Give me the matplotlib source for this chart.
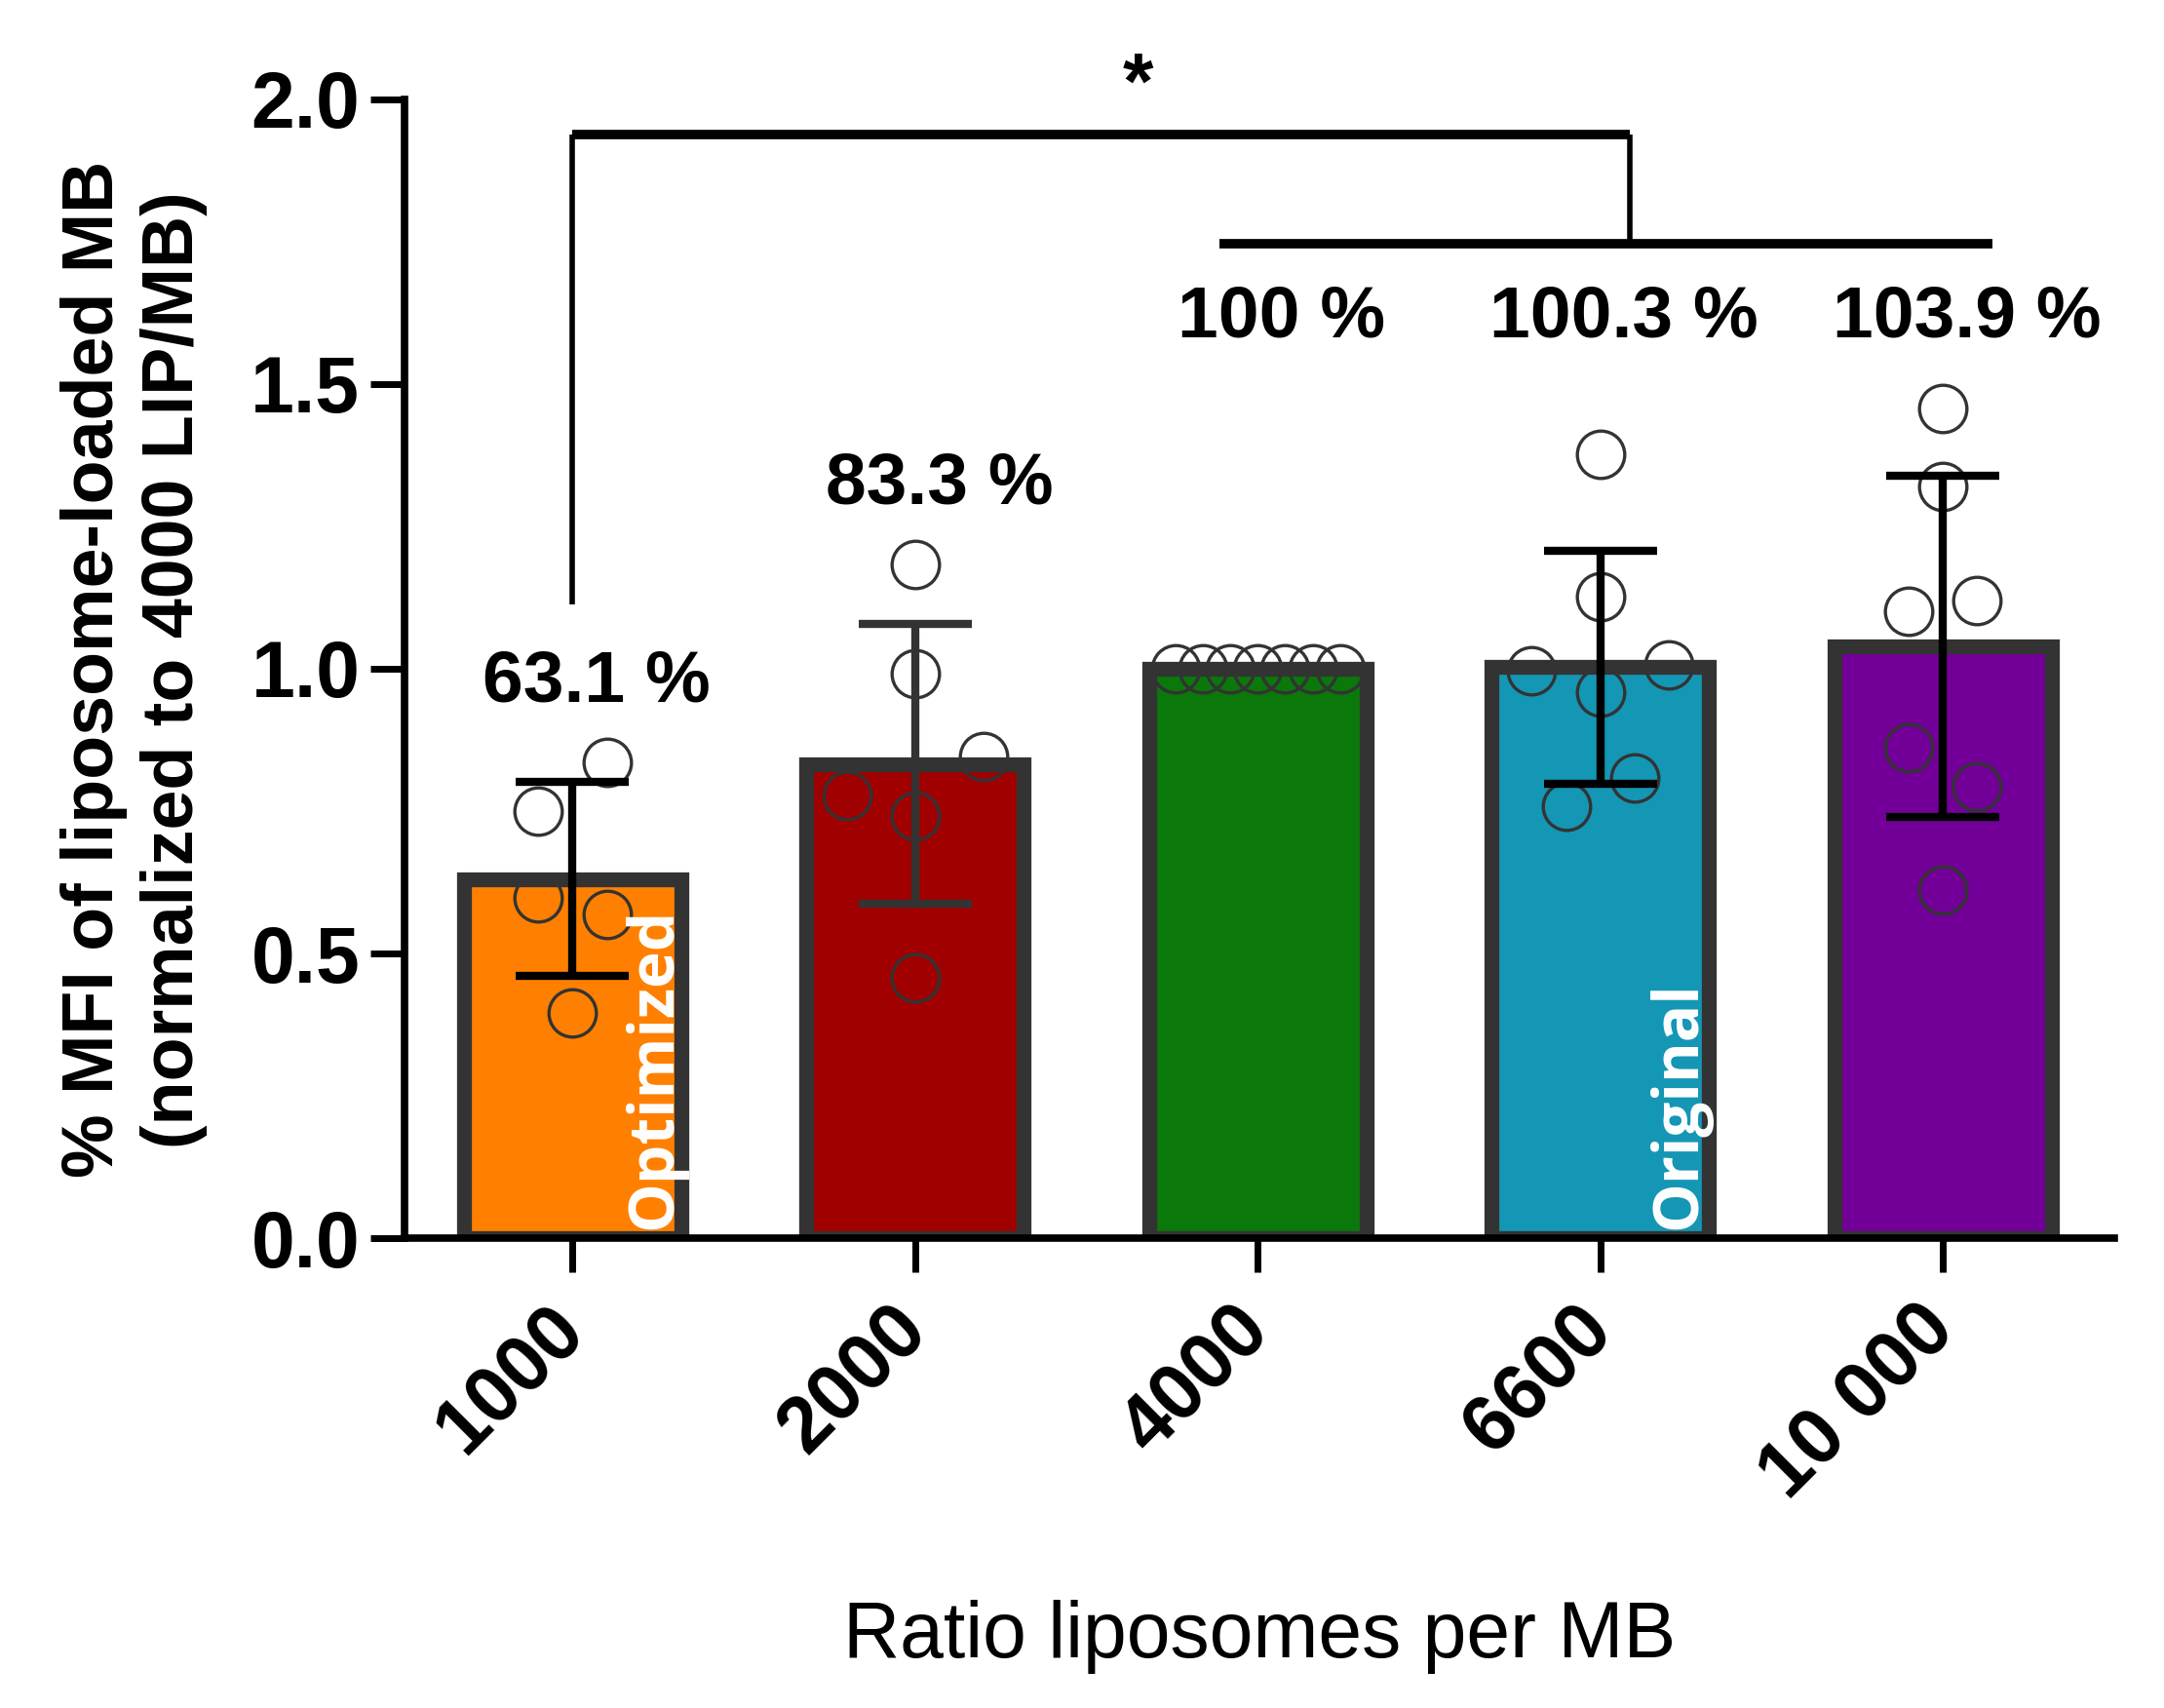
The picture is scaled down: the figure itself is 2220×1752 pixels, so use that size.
import matplotlib
matplotlib.use("Agg")
import matplotlib.pyplot as plt
import numpy as np

plt.rcParams["font.family"] = ["Liberation Sans", "DejaVu Sans"]

# data
ratios = ["1000", "2000", "4000", "6600", "10 000"]
means = [0.631, 0.833, 1.000, 1.003, 1.039]
sds = [0.171, 0.245, 0.0, 0.205, 0.300]
pct_labels = ["63.1 %", "83.3 %", "100 %", "100.3 %", "103.9 %"]

pts_1000 = [0.836, 0.750, 0.597, 0.568, 0.395]
pts_2000 = [1.184, 0.991, 0.846, 0.778, 0.741, 0.457]
pts_4000 = [1.0, 1.0, 1.0, 1.0, 1.0, 1.0, 1.0]
pts_6600 = [1.377, 1.126, 0.997, 1.007, 0.959, 0.808, 0.759]
pts_10000 = [1.458, 1.320, 1.101, 1.119, 0.862, 0.793, 0.611]
points = [pts_1000, pts_2000, pts_4000, pts_6600, pts_10000]

# horizontal scatter of the dots inside each group
jitter = [
    [0.1, -0.1, -0.1, 0.1, 0.0],
    [0.0, 0.0, 0.2, -0.2, 0.0, 0.0],
    [-0.24, -0.16, -0.08, 0.0, 0.08, 0.16, 0.24],
    [0.0, 0.0, -0.2, 0.2, 0.0, 0.1, -0.1],
    [0.0, 0.0, -0.1, 0.1, -0.1, 0.1, 0.0],
]

colors = ["#FF8000", "#A00000", "#0A780A", "#1496B5", "#720098"]
err_colors = ["black", "#333333", "black", "black", "black"]
edge = "#333333"

fig = plt.figure(figsize=(22.2, 17.52), dpi=100)
ax = fig.add_axes([0.187, 0.2751, 0.79, 0.6667])

x = np.arange(len(ratios))
ax.bar(x, means, width=0.635, color=colors, edgecolor=edge, linewidth=11, zorder=2)

for i, (vals, offs) in enumerate(zip(points, jitter)):
    ax.plot(x[i] + np.array(offs), vals, "o", mfc="none", mec=edge, ms=35, mew=2.4, zorder=3)

for i in range(len(x)):
    if sds[i] > 0:
        ax.errorbar(x[i], means[i], yerr=sds[i], fmt="none", ecolor=err_colors[i],
                    elinewidth=6, capsize=42, capthick=6, zorder=4)

# percentage labels
label_y = [max(points[0]) + 0.14, max(points[1]) + 0.14, 1.617, 1.617, 1.617]
for i, lab in enumerate(pct_labels):
    ax.text(x[i] + 0.07, label_y[i], lab, ha="center", va="center", fontsize=54,
            fontweight="bold", zorder=5)

# white labels inside bars
ax.text(x[0] + 0.24, 0.015, "Optimized", rotation=90, ha="center", va="bottom",
        color="white", fontsize=46, fontweight="bold", family=["Open Sans", "DejaVu Sans"], zorder=5)
ax.text(x[3] + 0.23, 0.015, "Original", rotation=90, ha="center", va="bottom",
        color="white", fontsize=46, fontweight="bold", family=["Open Sans", "DejaVu Sans"], zorder=5)

# significance bracket
top_y, low_y, drop_y = 1.938, 1.747, 1.113
mid_x = 3.085
ax.plot([x[0], x[0]], [drop_y, top_y], color="black", lw=4, clip_on=False, solid_capstyle="butt")
ax.plot([x[0], mid_x], [top_y, top_y], color="black", lw=7, clip_on=False, solid_capstyle="butt")
ax.plot([mid_x, mid_x], [low_y, top_y], color="black", lw=4, clip_on=False, solid_capstyle="butt")
ax.plot([x[2] - 0.113, x[4] + 0.145], [low_y, low_y], color="black", lw=7, clip_on=False,
        solid_capstyle="butt")
ax.text(1.65, 1.985, "*", ha="center", va="baseline", fontsize=58, fontweight="bold", clip_on=False)

ax.set_xlim(-0.49, 4.5)
ax.set_ylim(0, 2.0)
ax.set_yticks([0.0, 0.5, 1.0, 1.5, 2.0])
ax.set_yticklabels(["0.0", "0.5", "1.0", "1.5", "2.0"], fontsize=58, fontweight="bold")
ax.set_xticks(x)
ax.set_xticklabels(ratios, fontsize=58, fontweight="bold", rotation=45, ha="right",
                   va="center", rotation_mode="anchor")
ax.tick_params(axis="both", length=25, width=5, direction="out")
ax.tick_params(axis="x", pad=34)
ax.tick_params(axis="y", pad=8)

for side in ["top", "right"]:
    ax.spines[side].set_visible(False)
for side in ["left", "bottom"]:
    ax.spines[side].set_linewidth(5.5)

ax.set_xlabel("Ratio liposomes per MB", fontsize=58)
ax.xaxis.set_label_coords(0.5, -0.318)
fig.text(0.062, 0.608, "% MFI of liposome-loaded MB\n(normalized to 4000 LIP/MB)",
         rotation=90, ha="center", va="center", fontsize=53, fontweight="bold",
         multialignment="center", linespacing=1.25)

fig.savefig("out.png", dpi=100)
